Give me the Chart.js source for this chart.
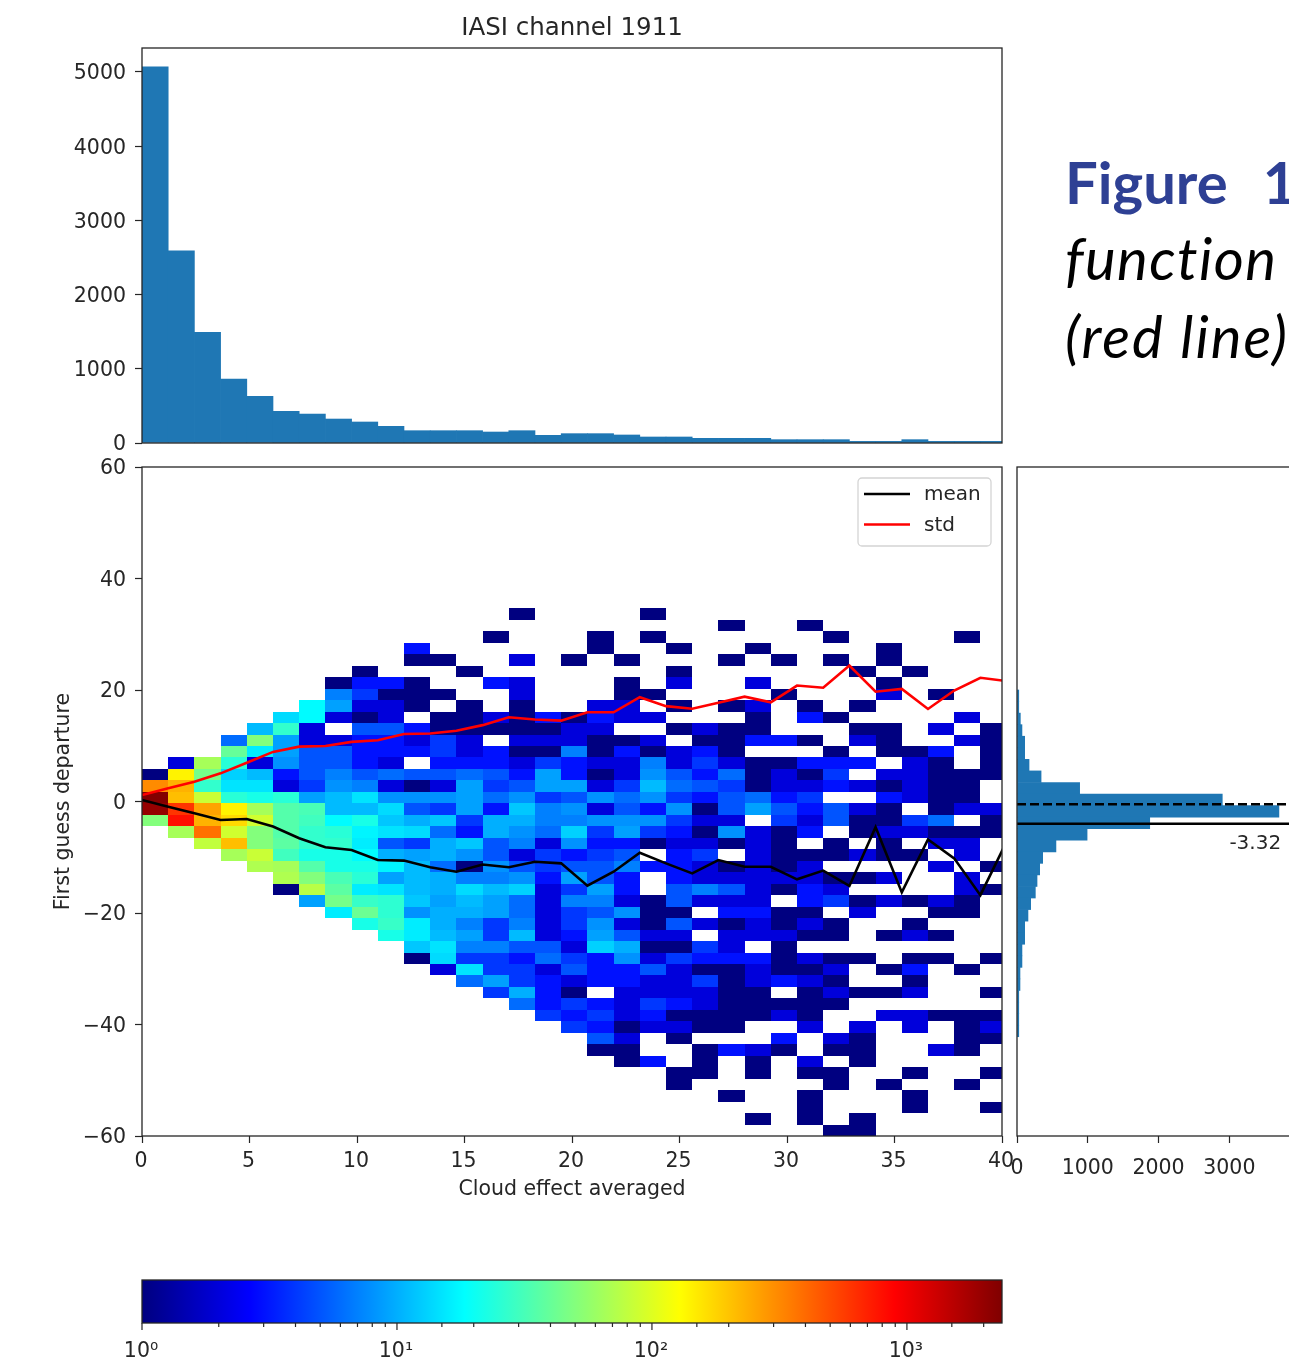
<!DOCTYPE html>
<html>
<head>
<meta charset="utf-8">
<title>IASI channel 1911</title>
<script src="https://cdn.jsdelivr.net/npm/chart.js@4"></script>
<style>
    html, body { margin: 0; padding: 0; background: #fff; width: 1289px; height: 1357px; overflow: hidden; }
    canvas { position: absolute; }
    .caption { position: absolute; left: 1065px; white-space: pre; font-family: Lato, sans-serif; font-size: 58px; line-height: 70px; color: #000; }
    .caption.note { font-style: italic; letter-spacing: 2px; }
</style>
</head>
<body>
<div class="caption" style="top:147px;color:#2e4094;font-weight:bold;word-spacing:3.5px">Figure  1</div>
<div class="caption note" style="top:223px;letter-spacing:1.4px">function</div>
<div class="caption note" style="top:301px">(red line)</div>
<canvas id="topHist" width="1030" height="460" style="left:0;top:0"></canvas>
<canvas id="main" width="1030" height="763" style="left:0;top:447px"></canvas>
<canvas id="rightHist" width="300" height="763" style="left:1007px;top:447px"></canvas>
<canvas id="colorbar" width="1030" height="97" style="left:0;top:1260px"></canvas>
<script>
const FONT = "DejaVu Sans";
const FONT_SIZE = 20.5;
const INK = "#262626";

// histogram of cloud effect, one count per column of the 2d histogram
const topCounts = [5070, 2590, 1490, 860, 629, 427, 390, 323, 283, 225, 166, 166, 166, 148, 166, 103, 126, 126, 108, 81, 81, 63, 63, 63, 45, 45, 45, 22, 22, 45, 22, 22, 22];

// histogram of first guess departure, from the top bin down
const rightCounts = [25, 25, 47, 70, 108, 108, 170, 340, 885, 2900, 3700, 1875, 990, 550, 363, 320, 283, 259, 193, 155, 108, 108, 70, 70, 42, 42, 25, 25, 25, 25];

const meanLine = [0.27, -0.93, -2.12, -3.32, -3.14, -4.5, -6.6, -8.2, -8.7, -10.5, -10.6, -11.8, -12.6, -11.3, -11.8, -10.8, -11.1, -15.1, -12.6, -9.2, -11.1, -12.9, -10.5, -11.7, -11.7, -13.96, -12.4, -15.15, -4.6, -16.3, -6.8, -10.2, -16.8, -7.2];
const stdLine = [1.16, 2.36, 3.55, 5.05, 6.96, 8.9, 9.84, 9.96, 10.7, 11, 12.1, 12.2, 12.7, 13.7, 15.1, 14.7, 14.5, 16, 16, 18.7, 17.1, 16.65, 17.7, 18.8, 17.8, 20.8, 20.4, 24.4, 19.7, 20.2, 16.6, 19.9, 22.2, 21.6];

const xBinWidth = 1.2186;
const yBinTop = 34.65;
const yBinHeight = 2.058;
const rightBinTop = 20;
const rightBinHeight = 2.073;

const topTicks = [0, 1000, 2000, 3000, 4000, 5000];
const xTicks = [0, 5, 10, 15, 20, 25, 30, 35, 40];
const yTicks = [-60, -40, -20, 0, 20, 40, 60];
const rightTicks = [0, 1000, 2000, 3000];

const countMax = 2360;
const dashedLevel = -0.5;
const solidLevel = -3.98;
const solidLabel = "-3.32";
const rightMax = 3885;

// 2d histogram counts, rows from the top, 33 columns, 0 = empty
const heatCounts = [
    [0,0,0,0,0,0,0,0,0,0, 0,0,0,0,1,0,0,0,0,1, 0,0,0,0,0,0,0,0,0,0, 0,0,0],
    [0,0,0,0,0,0,0,0,0,0, 0,0,0,0,0,0,0,0,0,0, 0,0,1,0,0,1,0,0,0,0, 0,0,0],
    [0,0,0,0,0,0,0,0,0,0, 0,0,0,1,0,0,0,1,0,1, 0,0,0,0,0,0,1,0,0,0, 0,1,0],
    [0,0,0,0,0,0,0,0,0,0, 3,0,0,0,0,0,0,1,0,0, 1,0,0,1,0,0,0,0,1,0, 0,0,0],
    [0,0,0,0,0,0,0,0,0,0, 1,1,0,0,2,0,1,0,1,0, 0,0,1,0,1,0,1,0,1,0, 0,0,0],
    [0,0,0,0,0,0,0,0,1,0, 0,0,1,0,0,0,0,0,0,0, 1,0,0,0,0,0,0,1,0,1, 0,0,0],
    [0,0,0,0,0,0,0,1,3,3, 1,0,0,3,2,0,0,0,1,0, 2,0,0,2,0,0,0,0,1,0, 0,0,0],
    [0,0,0,0,0,0,0,7,4,1, 1,1,0,0,2,0,0,0,1,1, 0,0,0,0,1,0,0,0,2,0, 1,0,0],
    [0,0,0,0,0,0,18,9,2,2, 1,0,1,0,1,0,0,2,2,0, 1,0,1,2,0,1,0,1,0,0, 0,0,0],
    [0,0,0,0,0,14,18,2,1,2, 0,1,1,2,1,3,1,3,2,2, 0,0,0,1,0,3,1,0,0,0, 0,2,0],
    [0,0,0,0,11,27,2,0,5,5, 3,1,1,1,1,1,2,2,0,0, 1,2,1,1,0,0,0,1,1,0, 2,0,1],
    [0,0,0,6,50,9,2,2,3,3, 2,4,2,0,2,2,2,1,1,2, 0,1,1,3,3,1,0,2,1,0, 0,2,1],
    [0,0,0,40,16,9,5,5,3,3, 3,4,2,3,1,1,7,1,3,1, 2,3,1,0,0,0,1,0,1,1, 3,0,1],
    [0,2,65,25,2,8,5,5,3,2, 0,3,3,3,2,4,3,2,2,7, 2,4,2,1,1,3,3,3,0,2, 1,0,1],
    [1,140,45,13,11,3,5,7,5,6, 5,5,6,5,3,9,3,1,2,8, 5,3,6,1,2,1,4,0,2,2, 1,1,1],
    [310,230,27,15,15,2,4,8,7,2, 1,2,9,4,5,9,9,2,4,11, 6,5,4,1,2,2,3,2,1,2, 1,1,0],
    [2300,210,85,25,22,25,9,11,15,8, 8,8,9,6,8,4,5,8,6,8, 4,3,5,6,3,4,0,0,3,2, 1,1,0],
    [2000,600,260,140,65,35,32,11,11,14, 5,4,9,3,12,7,8,2,5,3, 8,1,5,9,5,3,5,2,1,0, 1,2,2],
    [50,800,230,170,90,35,30,18,22,12, 10,12,4,10,10,7,7,8,8,8, 4,2,2,0,4,2,5,1,1,4, 6,0,1],
    [0,65,380,90,50,35,27,25,17,15, 14,6,3,10,8,6,13,4,9,4, 3,1,8,2,1,3,0,1,2,2, 1,1,1],
    [0,0,80,210,50,37,27,27,16,5, 4,10,12,5,7,2,8,3,3,1, 2,2,1,2,1,0,1,0,1,0, 2,2,0],
    [0,0,0,65,85,30,22,22,18,10, 9,10,8,5,2,4,3,4,5,0, 3,4,0,2,1,1,1,2,1,1, 0,2,0],
    [0,0,0,0,70,65,35,22,22,17, 11,6,1,8,5,4,5,5,7,3, 3,2,1,2,1,2,0,0,0,0, 2,0,1],
    [0,0,0,0,0,70,50,32,25,9, 11,10,7,7,8,3,9,5,3,0, 3,2,2,2,2,2,1,1,2,0, 0,2,0],
    [0,0,0,0,0,1,75,37,16,15, 11,10,14,11,13,2,4,9,3,0, 5,7,5,2,1,3,2,0,0,0, 0,2,1],
    [0,0,0,0,0,0,9,45,28,26, 12,9,11,9,6,2,7,7,2,1, 5,2,2,2,0,3,4,1,2,1, 2,1,0],
    [0,0,0,0,0,0,0,16,42,26, 8,10,10,9,6,2,4,5,8,1, 1,0,3,3,1,1,0,2,0,0, 1,1,0],
    [0,0,0,0,0,0,0,0,22,28, 16,10,7,4,7,2,4,8,2,1, 5,2,1,2,1,2,1,0,0,1, 0,0,0],
    [0,0,0,0,0,0,0,0,0,22, 16,11,9,4,11,2,3,9,5,2, 2,0,2,2,2,1,1,0,1,2, 1,0,0],
    [0,0,0,0,0,0,0,0,0,0, 12,15,7,7,5,5,2,13,10,1, 1,4,2,0,1,0,0,0,0,0, 0,0,0],
    [0,0,0,0,0,0,0,0,0,0, 1,14,4,4,3,6,4,3,8,2, 4,3,3,3,1,2,1,1,0,1, 1,0,1],
    [0,0,0,0,0,0,0,0,0,0, 0,2,15,4,4,2,5,3,3,5, 2,1,1,2,1,1,2,0,1,3, 0,1,0],
    [0,0,0,0,0,0,0,0,0,0, 0,0,6,9,4,3,2,3,3,2, 2,4,1,2,3,2,1,0,0,1, 0,0,0],
    [0,0,0,0,0,0,0,0,0,0, 0,0,0,4,10,3,1,0,2,2, 2,2,1,1,0,1,2,1,1,2, 0,0,1],
    [0,0,0,0,0,0,0,0,0,0, 0,0,0,0,6,3,4,3,2,4, 3,2,1,1,1,1,1,0,0,0, 0,0,0],
    [0,0,0,0,0,0,0,0,0,0, 0,0,0,0,0,4,3,4,2,3, 1,1,1,1,2,1,0,0,2,2, 1,1,1],
    [0,0,0,0,0,0,0,0,0,0, 0,0,0,0,0,0,4,3,1,2, 2,1,1,0,0,2,0,2,0,2, 0,1,2],
    [0,0,0,0,0,0,0,0,0,0, 0,0,0,0,0,0,0,5,2,0, 1,0,0,0,3,0,2,1,0,0, 0,1,1],
    [0,0,0,0,0,0,0,0,0,0, 0,0,0,0,0,0,0,1,1,0, 0,1,3,2,1,0,1,1,0,0, 2,1,0],
    [0,0,0,0,0,0,0,0,0,0, 0,0,0,0,0,0,0,0,1,3, 0,1,0,1,0,2,0,1,0,0, 0,0,0],
    [0,0,0,0,0,0,0,0,0,0, 0,0,0,0,0,0,0,0,0,0, 1,1,0,1,0,1,1,0,0,1, 0,0,1],
    [0,0,0,0,0,0,0,0,0,0, 0,0,0,0,0,0,0,0,0,0, 1,0,0,0,0,0,1,0,1,0, 0,1,0],
    [0,0,0,0,0,0,0,0,0,0, 0,0,0,0,0,0,0,0,0,0, 0,0,1,0,0,1,0,0,0,1, 0,0,0],
    [0,0,0,0,0,0,0,0,0,0, 0,0,0,0,0,0,0,0,0,0, 0,0,0,0,0,1,0,0,0,1, 0,0,1],
    [0,0,0,0,0,0,0,0,0,0, 0,0,0,0,0,0,0,0,0,0, 0,0,0,1,0,1,0,1,0,0, 0,0,0],
    [0,0,0,0,0,0,0,0,0,0, 0,0,0,0,0,0,0,0,0,0, 0,0,0,0,0,0,1,1,0,0, 0,0,0]
];

// jet colormap, f in 0..1
function jet(f) {
    const clip = v => Math.round(255 * Math.max(0, Math.min(1, v)));
    const r = clip(Math.min(4 * f - 1.5, -4 * f + 4.5));
    const g = clip(Math.min(4 * f - 0.5, -4 * f + 3.5));
    const b = clip(Math.min(4 * f + 0.5, -4 * f + 2.5));
    return `rgb(${r},${g},${b})`;
}

function countColor(count) {
    return jet(Math.log10(count) / Math.log10(countMax));
}

// force the axis box to a fixed size so the panels line up
function fixWidth(width) {
    return scale => {
        scale.width = width;
        scale.paddingTop = scale.paddingBottom = scale.paddingLeft = scale.paddingRight = 0;
    };
}
function fixHeight(height) {
    return scale => {
        scale.height = height;
        scale.paddingTop = scale.paddingBottom = scale.paddingLeft = scale.paddingRight = 0;
    };
}
function fixedTicks(values) {
    return scale => {
        scale.ticks = values.map(value => ({ value }));
    };
}

const axisFont = { family: FONT, size: FONT_SIZE };
const tickGrid = { drawOnChartArea: false, drawTicks: true, tickLength: 7, tickColor: INK, tickWidth: 1.2 };
const signedTick = value => (value < 0 ? "\u2212" + Math.abs(value) : String(value));
const yTickStyle = { color: INK, font: axisFont, padding: 9, labelOffset: 2, callback: signedTick };
const xTickStyle = { maxRotation: 0, color: INK, font: axisFont, padding: 6, labelOffset: -1, callback: signedTick };
const rightTickStyle = { maxRotation: 0, color: INK, font: axisFont, padding: 13, labelOffset: 0, callback: signedTick };

const framePlugin = {
    id: "frame",
    afterDatasetsDraw(chart) {
        const a = chart.chartArea;
        const ctx = chart.ctx;
        ctx.save();
        ctx.strokeStyle = INK;
        ctx.lineWidth = 1.3;
        ctx.strokeRect(a.left, a.top, a.right - a.left, a.bottom - a.top);
        ctx.restore();
    }
};

const heatmapPlugin = {
    id: "heatmap",
    beforeDatasetsDraw(chart) {
        const a = chart.chartArea;
        const x = chart.scales.x;
        const y = chart.scales.y;
        const ctx = chart.ctx;
        ctx.save();
        ctx.beginPath();
        ctx.rect(a.left, a.top, a.right - a.left, a.bottom - a.top);
        ctx.clip();
        heatCounts.forEach((row, r) => {
            const y0 = Math.round(y.getPixelForValue(yBinTop - r * yBinHeight));
            const y1 = Math.round(y.getPixelForValue(yBinTop - (r + 1) * yBinHeight));
            row.forEach((count, c) => {
                if (!count) return;
                const x0 = Math.round(x.getPixelForValue(c * xBinWidth));
                const x1 = Math.round(x.getPixelForValue((c + 1) * xBinWidth));
                ctx.fillStyle = countColor(count);
                ctx.fillRect(x0, y0, x1 - x0, y1 - y0);
            });
        });
        ctx.restore();
    }
};

const legendPlugin = {
    id: "boxLegend",
    afterDatasetsDraw(chart) {
        const a = chart.chartArea;
        const ctx = chart.ctx;
        const left = a.right - 144;
        const top = a.top + 11;
        ctx.save();
        ctx.fillStyle = "rgba(255,255,255,0.8)";
        ctx.strokeStyle = "#d4d4d4";
        ctx.lineWidth = 1.3;
        ctx.beginPath();
        ctx.roundRect(left, top, 133, 68, 4);
        ctx.fill();
        ctx.stroke();
        ctx.font = `20px ${FONT}`;
        ctx.textBaseline = "middle";
        chart.data.datasets.forEach((ds, i) => {
            const rowY = top + 16 + i * 30.5;
            ctx.strokeStyle = ds.borderColor;
            ctx.lineWidth = 2.4;
            ctx.beginPath();
            ctx.moveTo(left + 6, rowY);
            ctx.lineTo(left + 52, rowY);
            ctx.stroke();
            ctx.fillStyle = INK;
            ctx.fillText(ds.label, left + 66, rowY + 1);
        });
        ctx.restore();
    }
};

const levelLabelPlugin = {
    id: "levelLabel",
    afterDatasetsDraw(chart) {
        const ctx = chart.ctx;
        ctx.save();
        ctx.font = `20px ${FONT}`;
        ctx.fillStyle = INK;
        ctx.textAlign = "center";
        ctx.textBaseline = "middle";
        ctx.fillText(solidLabel, chart.scales.x.getPixelForValue(3366), chart.scales.y.getPixelForValue(-7.5));
        ctx.restore();
    }
};

// longer ticks on the decades of the colour bar
const decadeTicksPlugin = {
    id: "decadeTicks",
    afterDraw(chart) {
        const x = chart.scales.x;
        const bottom = chart.chartArea.bottom;
        const ctx = chart.ctx;
        ctx.save();
        ctx.strokeStyle = INK;
        ctx.lineWidth = 1.2;
        x.ticks.forEach(tick => {
            if (tick.value >= countMax) return;
            const decade = Number.isInteger(Math.log10(tick.value));
            const px = x.getPixelForValue(tick.value);
            ctx.beginPath();
            ctx.moveTo(px, bottom);
            ctx.lineTo(px, bottom + (decade ? 7 : 4));
            ctx.stroke();
        });
        ctx.restore();
    }
};

new Chart(document.getElementById("topHist"), {
    type: "bar",
    data: {
        datasets: [{
            data: topCounts.map((count, i) => ({ x: (i + 0.5) * xBinWidth, y: count })),
            backgroundColor: "#1f77b4",
            categoryPercentage: 1,
            barPercentage: 1
        }]
    },
    options: {
        responsive: false,
        animation: false,
        layout: { padding: { right: 28, bottom: 17 } },
        plugins: {
            legend: { display: false },
            tooltip: { enabled: false },
            title: {
                display: true,
                fullSize: false,
                text: "IASI channel 1911",
                color: INK,
                font: { family: FONT, size: 24.5, weight: "normal" },
                padding: { top: 14.3, bottom: 4.3 }
            }
        },
        scales: {
            x: { type: "linear", min: 0, max: 40, offset: false, display: false },
            y: {
                min: 0,
                max: 5323,
                afterFit: fixWidth(142),
                afterBuildTicks: fixedTicks(topTicks),
                border: { display: false },
                grid: tickGrid,
                ticks: yTickStyle
            }
        }
    },
    plugins: [framePlugin]
});

new Chart(document.getElementById("main"), {
    type: "scatter",
    data: {
        datasets: [
            {
                label: "mean",
                data: meanLine.map((v, i) => ({ x: i * xBinWidth, y: v })),
                showLine: true,
                borderColor: "#000000",
                borderWidth: 2.6,
                pointRadius: 0
            },
            {
                label: "std",
                data: stdLine.map((v, i) => ({ x: i * xBinWidth, y: v })),
                showLine: true,
                borderColor: "#ff0000",
                borderWidth: 2.6,
                pointRadius: 0
            }
        ]
    },
    options: {
        responsive: false,
        animation: false,
        layout: { padding: { top: 20, right: 28 } },
        plugins: { legend: { display: false }, tooltip: { enabled: false } },
        scales: {
            x: {
                type: "linear",
                min: 0,
                max: 40,
                afterFit: fixHeight(74),
                afterBuildTicks: fixedTicks(xTicks),
                border: { display: false },
                grid: tickGrid,
                ticks: xTickStyle,
                title: { display: true, text: "Cloud effect averaged", color: INK, font: axisFont, padding: { top: 0, bottom: 8 } }
            },
            y: {
                min: -60,
                max: 60,
                afterFit: fixWidth(142),
                afterBuildTicks: fixedTicks(yTicks),
                border: { display: false },
                grid: tickGrid,
                ticks: yTickStyle,
                title: { display: true, text: "First guess departure", color: INK, font: axisFont, padding: { top: 51, bottom: 0 } }
            }
        }
    },
    plugins: [heatmapPlugin, framePlugin, legendPlugin]
});

new Chart(document.getElementById("rightHist"), {
    type: "bar",
    data: {
        datasets: [
            {
                type: "scatter",
                data: [{ x: 0, y: dashedLevel }, { x: rightMax, y: dashedLevel }],
                showLine: true,
                borderColor: "#000000",
                borderWidth: 2.4,
                borderDash: [9, 4],
                pointRadius: 0
            },
            {
                type: "scatter",
                data: [{ x: 0, y: solidLevel }, { x: rightMax, y: solidLevel }],
                showLine: true,
                borderColor: "#000000",
                borderWidth: 2.4,
                pointRadius: 0
            },
            {
                data: rightCounts.map((count, i) => ({ x: count, y: rightBinTop - (i + 0.5) * rightBinHeight })),
                backgroundColor: "#1f77b4",
                categoryPercentage: 1,
                barPercentage: 1
            }
        ]
    },
    options: {
        indexAxis: "y",
        responsive: false,
        animation: false,
        layout: { padding: { left: 10, top: 20, right: 15 } },
        plugins: { legend: { display: false }, tooltip: { enabled: false } },
        scales: {
            x: {
                type: "linear",
                min: 0,
                max: rightMax,
                afterFit: fixHeight(74),
                afterBuildTicks: fixedTicks(rightTicks),
                border: { display: false },
                grid: tickGrid,
                ticks: rightTickStyle
            },
            y: { type: "linear", min: -60, max: 60, offset: false, display: false }
        }
    },
    plugins: [framePlugin, levelLabelPlugin]
});

new Chart(document.getElementById("colorbar"), {
    type: "bar",
    data: {
        labels: ["count"],
        datasets: [{
            data: [[1, countMax]],
            categoryPercentage: 1,
            barPercentage: 1,
            backgroundColor(context) {
                const a = context.chart.chartArea;
                if (!a) return "#000080";
                const gradient = context.chart.ctx.createLinearGradient(a.left, 0, a.right, 0);
                for (let i = 0; i <= 64; i++) {
                    gradient.addColorStop(i / 64, jet(i / 64));
                }
                return gradient;
            }
        }]
    },
    options: {
        indexAxis: "y",
        responsive: false,
        animation: false,
        layout: { padding: { left: 142, top: 20, right: 28 } },
        plugins: { legend: { display: false }, tooltip: { enabled: false } },
        scales: {
            x: {
                type: "logarithmic",
                min: 1,
                max: countMax,
                afterFit: fixHeight(34),
                border: { display: false },
                grid: { display: false },
                ticks: {
                    autoSkip: false,
                    maxRotation: 0,
                    color: INK,
                    font: { family: FONT, size: 20.5 },
                    padding: 8,
                    labelOffset: -1,
                    callback(value) {
                        const exponent = Math.log10(value);
                        if (!Number.isInteger(exponent)) return "";
                        return "10" + "\u2070\u00b9\u00b2\u00b3"[exponent];
                    }
                }
            },
            y: { display: false }
        }
    },
    plugins: [framePlugin, decadeTicksPlugin]
});
</script>
</body>
</html>
